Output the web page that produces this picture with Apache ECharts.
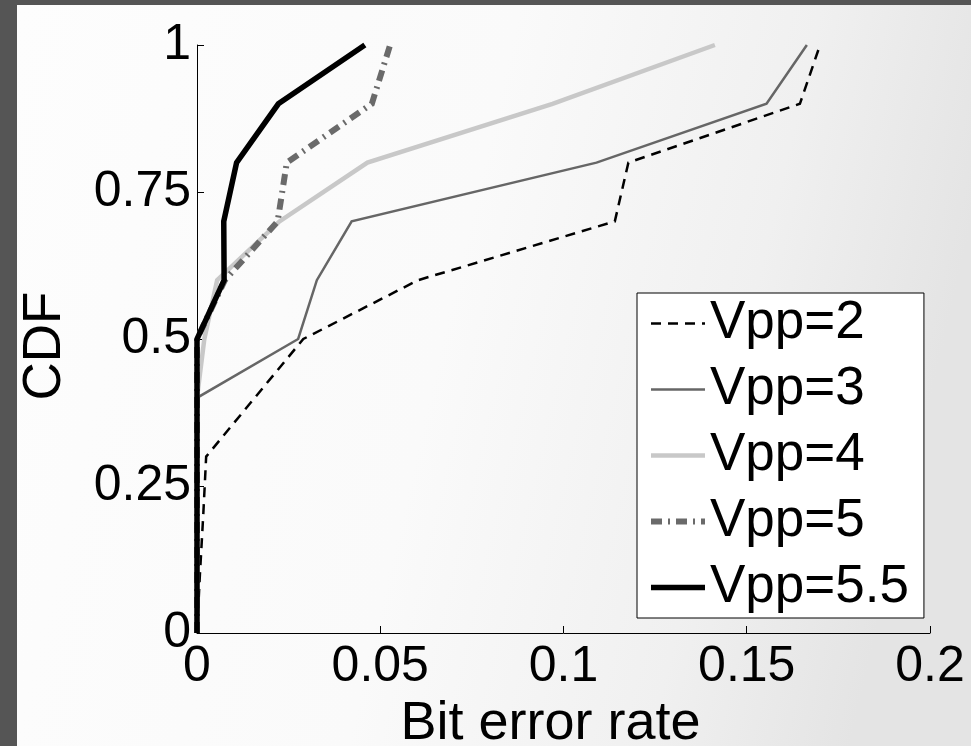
<!DOCTYPE html>
<html>
<head>
<meta charset="utf-8">
<script src="https://cdn.jsdelivr.net/npm/echarts@6/dist/echarts.min.js"></script>
<style>
html,body{margin:0;padding:0;background:#555555;}
#c{width:971px;height:746px;}
</style>
</head>
<body>
<div id="c"></div>
<script>
// ---- data ----
const seriesNames = ['Vpp=2', 'Vpp=3', 'Vpp=4', 'Vpp=5', 'Vpp=5.5'];
const vpp2X  = [0, 0.0008, 0.0017, 0.0025, 0.029, 0.0603, 0.114, 0.1177, 0.1645, 0.170];
const vpp2Y  = [0, 0.1, 0.2, 0.3, 0.5, 0.6, 0.7, 0.8, 0.9, 1.0];
const vpp3X  = [0, 0, 0.0276, 0.0327, 0.0422, 0.109, 0.1554, 0.1664];
const vpp3Y  = [0, 0.4, 0.5, 0.6, 0.7, 0.8, 0.9, 1.0];
const vpp4X  = [0, 0, 0.002, 0.0055, 0.0225, 0.0465, 0.097, 0.1413];
const vpp4Y  = [0, 0.4, 0.5, 0.6, 0.7, 0.8, 0.9, 1.0];
const vpp5X  = [0, 0, 0.0076, 0.022, 0.0245, 0.0477, 0.0527];
const vpp5Y  = [0, 0.5, 0.6, 0.7, 0.8, 0.9, 1.0];
const vpp55X = [0, 0, 0.0074, 0.0073, 0.0108, 0.0222, 0.0458];
const vpp55Y = [0, 0.5, 0.6, 0.7, 0.8, 0.9, 1.0];
const xTicks = [0, 0.05, 0.1, 0.15, 0.2];
const yTicks = [0, 0.25, 0.5, 0.75, 1];

const zip = (xs, ys) => xs.map((x, i) => [x, ys[i]]);
const FONT = 'Liberation Sans';

const styles = [
  {color: '#000000', width: 2.5, type: [10, 7]},
  {color: '#666666', width: 2.5, type: 'solid'},
  {color: '#c8c8c8', width: 4.5, type: 'solid'},
  {color: '#6a6a6a', width: 6, type: [11, 6, 2, 6]},
  {color: '#000000', width: 5.5, type: 'solid'}
];
const dataSets = [zip(vpp2X, vpp2Y), zip(vpp3X, vpp3Y), zip(vpp4X, vpp4Y), zip(vpp5X, vpp5Y), zip(vpp55X, vpp55Y)];

const chart = echarts.init(document.getElementById('c'), null, {renderer: 'canvas'});
chart.setOption({
  animation: false,
  backgroundColor: '#555555',
  graphic: [{
    type: 'rect', z: -10, silent: true,
    shape: {x: 17, y: 5, width: 954, height: 741},
    style: {
      fill: new echarts.graphic.LinearGradient(0, 0, 1, 0.3, [
        {offset: 0, color: '#fdfdfd'},
        {offset: 0.5, color: '#fafafa'},
        {offset: 0.8, color: '#f0f0f0'},
        {offset: 1, color: '#e4e4e4'}
      ])
    }
  }],
  grid: {left: 197, right: 41, top: 45, bottom: 113, containLabel: false, outerBoundsMode: 'none'},
  legend: {
    data: seriesNames,
    orient: 'vertical',
    left: 637, top: 293,
    backgroundColor: '#ffffff',
    borderColor: '#000000', borderWidth: 1,
    padding: [4, 15, 4, 11],
    itemWidth: 54, itemHeight: 14, itemGap: 13,
    itemStyle: {opacity: 0},
    lineStyle: {width: 'inherit'},
    textStyle: {fontFamily: FONT, fontSize: 53, lineHeight: 53, color: '#000'}
  },
  xAxis: {
    type: 'value', min: 0, max: 0.2, interval: 0.05,
    name: 'Bit error rate', nameLocation: 'middle', nameGap: 60,
    nameTextStyle: {fontFamily: FONT, fontSize: 54, color: '#000', padding: [0, 26, 0, 0]},
    axisLine: {show: true, lineStyle: {color: '#000', width: 1}},
    axisTick: {show: true, inside: true, length: 7, lineStyle: {color: '#000'}},
    axisLabel: {fontFamily: FONT, fontSize: 50, color: '#000', margin: 9,
      formatter: v => String(+v.toFixed(4))},
    splitLine: {show: false}
  },
  yAxis: {
    type: 'value', min: 0, max: 1, interval: 0.25,
    name: 'CDF', nameLocation: 'middle', nameGap: 125,
    nameTextStyle: {fontFamily: FONT, fontSize: 53, color: '#000', padding: [0, 14, 0, 0]},
    axisLine: {show: true, lineStyle: {color: '#000', width: 1}},
    axisTick: {show: true, inside: true, length: 7, lineStyle: {color: '#000'}},
    axisLabel: {fontFamily: FONT, fontSize: 50, color: '#000', margin: 6,
      formatter: v => String(+v.toFixed(4))},
    splitLine: {show: false}
  },
  series: seriesNames.map((n, i) => ({
    name: n, type: 'line', data: dataSets[i],
    symbol: 'none', showSymbol: false, clip: false, z: 2 + i,
    lineStyle: {color: styles[i].color, width: styles[i].width, type: styles[i].type, cap: 'butt', join: 'miter'},
    itemStyle: {color: styles[i].color}
  }))
});
</script>
</body>
</html>
